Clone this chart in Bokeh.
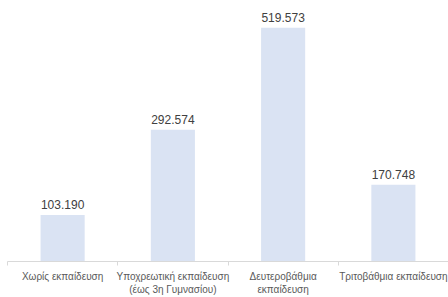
import numpy as np
from bokeh.plotting import figure
from bokeh.models import ColumnDataSource, FixedTicker, Range1d
from bokeh.core.properties import value
from bokeh.embed import file_html
from bokeh.resources import INLINE

categories = ["Χωρίς εκπαίδευση", "Υποχρεωτική εκπαίδευση\n(έως 3η Γυμνασίου)",
              "Δευτεροβάθμια\nεκπαίδευση", "Τριτοβάθμια εκπαίδευση"]
values = [103.190, 292.574, 519.573, 170.748]
value_labels = ["103.190", "292.574", "519.573", "170.748"]

pos = np.arange(len(categories)) + 0.5
src = ColumnDataSource(dict(x=pos, top=values, label=value_labels))

p = figure(width=448, height=297, output_backend="svg", toolbar_location=None,
           x_range=Range1d(0, len(categories)), y_range=Range1d(0, 580),
           min_border_left=7, min_border_right=0, min_border_top=0, min_border_bottom=0)
p.outline_line_color = None
p.xgrid.visible = False
p.ygrid.visible = False
p.yaxis.visible = False

p.vbar(x="x", top="top", bottom=0, width=0.4, source=src,
       fill_color="#DAE3F3", line_color=None)
p.text(x="x", y="top", text="label", source=src, text_align="center",
       text_baseline="bottom", y_offset=-6, text_font_size="12px",
       text_color="#404040", text_font=value("Liberation Sans"))

ax = p.xaxis[0]
ax.ticker = FixedTicker(ticks=list(pos), minor_ticks=list(range(len(categories) + 1)))
ax.major_label_overrides = {float(x): c for x, c in zip(pos, categories)}
ax.major_tick_line_color = None
ax.minor_tick_line_color = "#D9D9D9"
ax.minor_tick_in = 0
ax.minor_tick_out = 4
ax.axis_line_color = "#D9D9D9"
ax.major_label_text_font = "Liberation Sans"
ax.major_label_text_font_size = "10px"
ax.major_label_text_color = "#595959"
ax.major_label_standoff = 3

open("out.html", "w").write(file_html(p, INLINE))
